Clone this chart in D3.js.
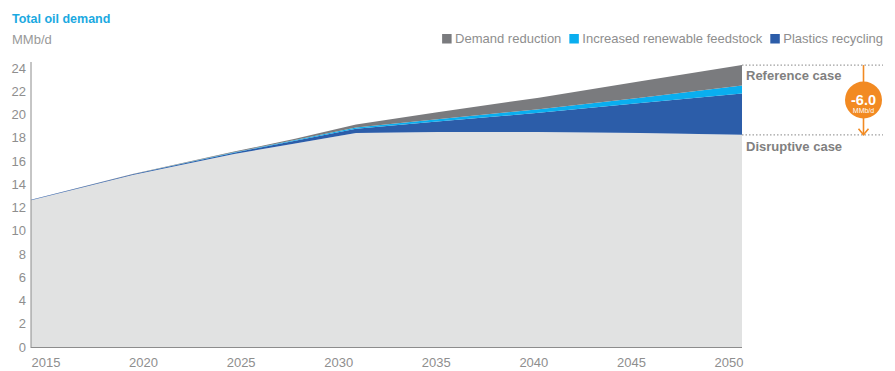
<!DOCTYPE html>
<html>
<head>
<meta charset="utf-8">
<script src="https://cdn.jsdelivr.net/npm/d3@7"></script>
<style>
  html, body { margin: 0; padding: 0; background: #fff; }
  svg { display: block; font-family: "Liberation Sans", Arial, Helvetica, sans-serif; }
</style>
</head>
<body>
<svg id="chart" width="895" height="371"></svg>
<script>
// Total oil demand, MMb/d
const years          = [2015, 2020, 2025, 2028, 2031, 2035, 2040, 2045, 2050];
const disruptive     = [12.63, 14.8, 16.6, 17.5, 18.4, 18.5, 18.5, 18.4, 18.25];
const recycling      = [0.03, 0.05, 0.12, 0.25, 0.38, 0.9, 1.65, 2.6, 3.55];
const renewable      = [0, 0.01, 0.03, 0.05, 0.1, 0.2, 0.3, 0.45, 0.7];
const demandCut      = [0, 0.02, 0.06, 0.12, 0.25, 0.6, 1.0, 1.4, 1.75];
const yTicks         = [0, 2, 4, 6, 8, 10, 12, 14, 16, 18, 20, 22, 24];
const xTickLabels    = ["2015", "2020", "2025", "2030", "2035", "2040", "2045", "2050"];
const gapLabel       = "-6.0";

const colors = {
  base: "#e1e2e2",
  recycling: "#2c5da9",
  renewable: "#0aaeef",
  demand: "#7a7b7e"
};

const rows = years.map((y, i) => ({
  year: y,
  base: disruptive[i],
  recycling: recycling[i],
  renewable: renewable[i],
  demand: demandCut[i]
}));

const svg = d3.select("#chart");
const left = 31, right = 742, bottom = 347, top24 = 68;

const x = d3.scaleLinear().domain([2015, 2050]).range([left, right]);
const y = d3.scaleLinear().domain([0, 24]).range([bottom, top24]);

const keys = ["base", "recycling", "renewable", "demand"];
const series = d3.stack().keys(keys)(rows);

const area = d3.area()
  .x(d => x(d.data.year))
  .y0(d => y(d[0]))
  .y1(d => y(d[1]));

svg.append("g").selectAll("path")
  .data(series)
  .join("path")
  .attr("d", area)
  .attr("fill", d => colors[d.key]);

// axis lines
const axisColor = "#8c8c8c";
svg.append("line").attr("x1", left).attr("x2", left)
  .attr("y1", 62).attr("y2", bottom + 1)
  .attr("stroke", axisColor).attr("stroke-width", 1);
svg.append("line").attr("x1", left).attr("x2", right)
  .attr("y1", bottom + 0.5).attr("y2", bottom + 0.5)
  .attr("stroke", axisColor).attr("stroke-width", 1);

// y tick labels
const textGrey = "#8e8e8e";
svg.append("g").selectAll("text")
  .data(yTicks)
  .join("text")
  .attr("x", 26)
  .attr("y", d => y(d))
  .attr("dy", "0.36em")
  .attr("text-anchor", "end")
  .attr("font-size", 13)
  .attr("fill", textGrey)
  .text(d => d);

// x tick labels
const xl = d3.scalePoint().domain(xTickLabels).range([46, 729]);
svg.append("g").selectAll("text")
  .data(xTickLabels)
  .join("text")
  .attr("x", d => xl(d))
  .attr("y", 367)
  .attr("text-anchor", "middle")
  .attr("font-size", 13)
  .attr("fill", textGrey)
  .text(d => d);

// title
svg.append("text").attr("x", 12).attr("y", 23)
  .attr("font-size", 12.5).attr("font-weight", "bold")
  .attr("fill", "#1ba9e1").text("Total oil demand");
svg.append("text").attr("x", 12).attr("y", 44)
  .attr("font-size", 13).attr("fill", "#999")
  .text("MMb/d");

// legend, right aligned
const legendItems = [
  { label: "Demand reduction", color: colors.demand },
  { label: "Increased renewable feedstock", color: colors.renewable },
  { label: "Plastics recycling", color: colors.recycling }
];
const lg = svg.append("g");
let cursor = 883;
for (let i = legendItems.length - 1; i >= 0; i--) {
  const it = legendItems[i];
  const t = lg.append("text")
    .attr("y", 43).attr("font-size", 13).attr("fill", textGrey)
    .text(it.label);
  const w = t.node().getComputedTextLength();
  t.attr("x", cursor - w);
  lg.append("rect")
    .attr("x", cursor - w - 13).attr("y", 34)
    .attr("width", 9.5).attr("height", 9.5)
    .attr("fill", it.color);
  cursor = cursor - w - 13 - 8;
}

// reference / disruptive markers at 2050
const last = rows[rows.length - 1];
const refVal = last.base + last.recycling + last.renewable + last.demand;
const yRef = y(refVal), yDis = y(last.base);
[yRef, yDis].forEach(v => {
  svg.append("line")
    .attr("x1", right).attr("x2", 883)
    .attr("y1", v).attr("y2", v)
    .attr("stroke", "#a0a0a0").attr("stroke-width", 1.2)
    .attr("stroke-dasharray", "1.5,2");
});
svg.append("text").attr("x", 746).attr("y", yRef + 15)
  .attr("font-size", 13).attr("font-weight", "bold").attr("fill", "#808080")
  .text("Reference case");
svg.append("text").attr("x", 746).attr("y", yDis + 16)
  .attr("font-size", 13).attr("font-weight", "bold").attr("fill", "#808080")
  .text("Disruptive case");

// orange gap arrow
const orange = "#f28a22";
const ax = 863.5;
svg.append("line").attr("x1", ax).attr("x2", ax)
  .attr("y1", yRef).attr("y2", yDis)
  .attr("stroke", orange).attr("stroke-width", 1.6);
svg.append("path")
  .attr("d", `M${ax - 5},${yDis - 6} L${ax},${yDis} L${ax + 5},${yDis - 6}`)
  .attr("fill", "none").attr("stroke", orange).attr("stroke-width", 1.6);
const cy = (yRef + yDis) / 2;
svg.append("circle").attr("cx", ax).attr("cy", cy).attr("r", 18.5).attr("fill", orange);
svg.append("text").attr("x", ax).attr("y", cy + 5)
  .attr("text-anchor", "middle").attr("font-size", 14.5).attr("font-weight", "bold")
  .attr("fill", "#fff").text(gapLabel);
svg.append("text").attr("x", ax).attr("y", cy + 13)
  .attr("text-anchor", "middle").attr("font-size", 7)
  .attr("fill", "#fff").text("MMb/d");
</script>
</body>
</html>
